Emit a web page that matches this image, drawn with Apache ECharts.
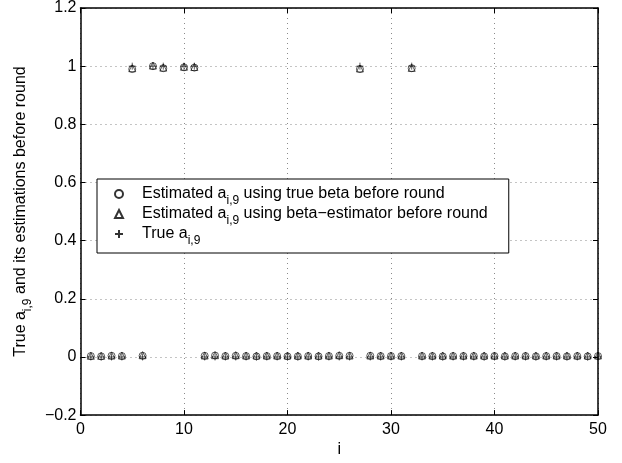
<!DOCTYPE html>
<html>
<head>
    <meta charset="UTF-8">
    <title>a_i,9 estimations</title>
    <script src="https://cdn.jsdelivr.net/npm/echarts@6/dist/echarts.min.js"></script>
    <style>
        html, body { margin: 0; padding: 0; background: #fff; }
        #main { width: 622px; height: 463px; }
    </style>
</head>
<body>
<div id="main"></div>
<script type="text/javascript">
    // index i (9 has no value)
    let idx = [];
    for (let k = 1; k <= 50; k++) idx.push(k);

    // estimated a_i,9 using true beta (circles)
    let estTrueBeta = [0.003, 0.002, 0.004, 0.003, 0.99, 0.004, 1.0, 0.993, null, 0.996,
        0.995, 0.004, 0.005, 0.003, 0.004, 0.003, 0.002, 0.003, 0.003, 0.002,
        0.002, 0.003, 0.002, 0.003, 0.004, 0.004, 0.99, 0.004, 0.003, 0.003,
        0.003, 0.993, 0.003, 0.003, 0.002, 0.003, 0.003, 0.003, 0.002, 0.003,
        0.002, 0.003, 0.003, 0.002, 0.003, 0.003, 0.002, 0.003, 0.002, 0.003];
    // estimated a_i,9 using beta-estimator (triangles)
    let estBetaEst = [0.004, 0.004, 0.005, 0.005, 0.993, 0.006, 1.002, 0.995, null, 0.998,
        0.997, 0.005, 0.006, 0.005, 0.006, 0.005, 0.005, 0.005, 0.005, 0.005,
        0.005, 0.005, 0.005, 0.005, 0.006, 0.005, 0.992, 0.005, 0.005, 0.005,
        0.005, 0.994, 0.005, 0.005, 0.005, 0.005, 0.005, 0.005, 0.005, 0.005,
        0.005, 0.005, 0.005, 0.005, 0.005, 0.005, 0.005, 0.005, 0.005, 0.005];
    // true a_i,9 (plus)
    let trueA = [0, 0, 0, 0, 1, 0, 1, 1, null, 1,
        1, 0, 0, 0, 0, 0, 0, 0, 0, 0,
        0, 0, 0, 0, 0, 0, 1, 0, 0, 0,
        0, 1, 0, 0, 0, 0, 0, 0, 0, 0,
        0, 0, 0, 0, 0, 0, 0, 0, 0, 0];

    let xTicks = [0, 10, 20, 30, 40, 50];
    let yTicks = [-0.2, 0, 0.2, 0.4, 0.6, 0.8, 1, 1.2];

    let names = ['est1', 'est2', 'true'];
    let legendText = {
        est1: '{t|Estimated a}{s|i,9}{t| using true beta before round}',
        est2: '{t|Estimated a}{s|i,9}{t| using beta\u2212estimator before round}',
        true: '{t|True a}{s|i,9}'
    };

    function pairs(arr) {
        let out = [];
        for (let k = 0; k < idx.length; k++) {
            if (arr[k] !== null) out.push([idx[k], arr[k]]);
        }
        return out;
    }

    let font = 'Liberation Sans, Arial, sans-serif';
    let dotted = { color: '#8a8a8a', width: 1, type: [1, 4] };
    let frame = { color: '#000', width: 1.5 };
    let richSub = {
        t: { fontSize: 16, fontFamily: font, color: '#000', lineHeight: 16 },
        s: { fontSize: 12, fontFamily: font, color: '#000', padding: [14, 0, 0, 0], lineHeight: 12 }
    };

    let myChart = echarts.init(document.getElementById('main'));
    let option = {
        animation: false,
        textStyle: { fontFamily: font },
        grid: { left: 77, right: 24, top: 5, bottom: 47, show: false },
        legend: {
            data: names,
            orient: 'vertical',
            left: 97,
            top: 179,
            padding: [2, 21, 6, 17],
            backgroundColor: '#fff',
            borderColor: '#000',
            borderWidth: 1,
            itemWidth: 8,
            itemHeight: 8,
            itemGap: -6,
            formatter: function (name) { return legendText[name]; },
            textStyle: {
                fontFamily: font,
                fontSize: 16,
                color: '#000',
                padding: [0, 0, 0, 14],
                rich: richSub
            }
        },
        xAxis: [{
            type: 'value',
            min: xTicks[0], max: xTicks[xTicks.length - 1], interval: 10,
            name: 'i', nameLocation: 'middle', nameGap: 22,
            nameTextStyle: { fontSize: 16, color: '#000', fontFamily: font },
            axisLine: { onZero: false, lineStyle: frame },
            axisTick: { inside: true, length: 5, lineStyle: { color: '#000' } },
            axisLabel: { color: '#000', fontSize: 16, margin: 6, fontFamily: font },
            splitLine: { show: true, lineStyle: dotted }
        }, {
            type: 'value', position: 'top',
            min: xTicks[0], max: xTicks[xTicks.length - 1], interval: 10,
            axisLine: { onZero: false, lineStyle: frame },
            axisTick: { inside: true, length: 5, lineStyle: { color: '#000' } },
            axisLabel: { show: false }, splitLine: { show: false }
        }],
        yAxis: [{
            type: 'value',
            min: yTicks[0], max: yTicks[yTicks.length - 1], interval: 0.2,
            name: '{t|True a}{s|i,9}{t| and its estimations before round}',
            nameLocation: 'middle', nameGap: 40,
            nameTextStyle: { color: '#000', fontFamily: font, rich: richSub },
            axisLine: { show: true, onZero: false, lineStyle: frame },
            axisTick: { show: true, inside: true, length: 5, lineStyle: { color: '#000' } },
            axisLabel: {
                color: '#000', fontSize: 16, margin: 4, fontFamily: font,
                formatter: function (v) {
                    let s = String(Math.round(v * 10) / 10);
                    return s.replace('-', '\u2212');
                }
            },
            splitLine: { show: true, lineStyle: dotted }
        }, {
            type: 'value', position: 'right',
            min: yTicks[0], max: yTicks[yTicks.length - 1], interval: 0.2,
            axisLine: { show: true, onZero: false, lineStyle: frame },
            axisTick: { show: true, inside: true, length: 5, lineStyle: { color: '#000' } },
            axisLabel: { show: false }, splitLine: { show: false }
        }],
        series: [
            {
                name: 'est1', type: 'scatter', data: pairs(estTrueBeta),
                symbol: 'circle', symbolSize: 7,
                itemStyle: { color: 'rgba(0,0,0,0)', borderColor: '#000', borderWidth: 0.8 }
            },
            {
                name: 'est2', type: 'scatter', data: pairs(estBetaEst),
                symbol: 'triangle', symbolSize: 7,
                itemStyle: { color: 'rgba(0,0,0,0)', borderColor: '#000', borderWidth: 0.8 }
            },
            {
                name: 'true', type: 'scatter', data: pairs(trueA),
                symbol: 'path://M0,5L10,5M5,0L5,10', symbolSize: 7,
                itemStyle: { color: 'rgba(0,0,0,0)', borderColor: '#000', borderWidth: 0.8 }
            }
        ]
    };
    myChart.setOption(option);
</script>
</body>
</html>
